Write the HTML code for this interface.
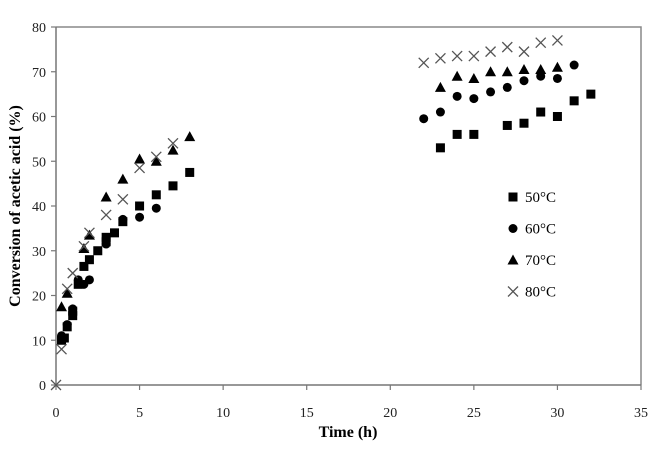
<!DOCTYPE html>
<html><head><meta charset="utf-8"><style>
body{margin:0;background:#fff;width:665px;height:450px;overflow:hidden}
text{font-family:"Liberation Serif",serif}
</style></head><body>
<svg id="chart" width="665" height="450" xmlns="http://www.w3.org/2000/svg"></svg>
<script>
const xTicks=[0,5,10,15,20,25,30,35];
const yTicks=[0,10,20,30,40,50,60,70,80];
const seriesNames=["50°C","60°C","70°C","80°C"];
const t50=[0.33,0.5,0.67,1,1,1.33,1.67,2,2.5,3,3,3.5,4,5,6,7,8,23,24,25,27,28,29,30,31,32];
const v50=[10,10.5,13,15.5,16.5,22.5,26.5,28,30,32,33,34,36.5,40,42.5,44.5,47.5,53,56,56,58,58.5,61,60,63.5,65];
const t60=[0.33,0.67,1,1.33,1.67,2,3,4,5,6,22,23,24,25,26,27,28,29,30,31];
const v60=[11,13.5,17,23.5,22.5,23.5,31.5,37,37.5,39.5,59.5,61,64.5,64,65.5,66.5,68,69,68.5,71.5];
const t70=[0.33,0.67,1.67,2,3,4,5,6,7,8,23,24,25,26,27,28,29,30];
const v70=[17.5,20.5,30.5,33.5,42,46,50.5,50,52.5,55.5,66.5,69,68.5,70,70,70.5,70.5,71];
const t80=[0,0.33,0.67,1,1.67,2,3,4,5,6,7,22,23,24,25,26,27,28,29,30];
const v80=[0,8,21.5,25,31,34,38,41.5,48.5,51,54,72,73,73.5,73.5,74.5,75.5,74.5,76.5,77];
const svg=document.getElementById('chart');const NS='http://www.w3.org/2000/svg';
const X=v=>56+v*(641-56)/35, Y=v=>385-v*(385-27)/80;
function mk(tag,a,p){const e=document.createElementNS(NS,tag);for(const k in a)e.setAttribute(k,a[k]);(p||svg).appendChild(e);return e;}
const frame=mk('path',{d:`M${X(0)},${Y(80)}H${X(35)}V${Y(0)}`,fill:'none',stroke:'#888','stroke-width':1.5});


const xa=mk('line',{x1:X(0),y1:Y(0),x2:X(35),y2:Y(0),stroke:'#777','stroke-width':1.5});


const ya=mk('line',{x1:X(0),y1:Y(0),x2:X(0),y2:Y(80),stroke:'#777','stroke-width':1.5});


xTicks.forEach(v=>{mk('line',{x1:X(v),y1:Y(0),x2:X(v),y2:Y(0)+5,stroke:'#777','stroke-width':1.2});
const t=mk('text',{x:X(v),y:417,'text-anchor':'middle','font-size':14,fill:'#222'});t.textContent=v;

});
yTicks.forEach(v=>{mk('line',{x1:X(0)-5,y1:Y(v),x2:X(0),y2:Y(v),stroke:'#777','stroke-width':1.2});
const t=mk('text',{x:46,y:Y(v)+5,'text-anchor':'end','font-size':14,fill:'#222'});t.textContent=v;

});
const xt=mk('text',{x:348,y:437,'text-anchor':'middle','font-size':16,'font-weight':'bold'});xt.textContent='Time (h)';


const yt=mk('text',{x:0,y:0,transform:'translate(20,206) rotate(-90)','text-anchor':'middle','font-size':16,'font-weight':'bold'});yt.textContent='Conversion of acetic acid (%)';


function marker(kind,x,y,g){
 if(kind===0)return mk('rect',{x:x-4.5,y:y-4.5,width:9,height:9,fill:'#000'},g);
 if(kind===1)return mk('circle',{cx:x,cy:y,r:4.5,fill:'#000'},g);
 if(kind===2)return mk('path',{d:`M${x},${y-5.5}L${x+5.5},${y+4.5}L${x-5.5},${y+4.5}Z`,fill:'#000'},g);
 return mk('path',{d:`M${x-5},${y-5}L${x+5},${y+5}M${x+5},${y-5}L${x-5},${y+5}`,stroke:'#555','stroke-width':1.3,fill:'none'},g);
}
const data=[[t50,v50],[t60,v60],[t70,v70],[t80,v80]];
data.forEach((d,k)=>{const g=mk('g',{});


d[0].forEach((t,i)=>{const m=marker(k,X(t),Y(d[1][i]),g);

});});
seriesNames.forEach((n,k)=>{const y=197+k*31.5;const g=mk('g',{});


marker(k,513,y,g);const t=mk('text',{x:525,y:y+5,'font-size':15},g);t.textContent=n;});
</script>
</body></html>
